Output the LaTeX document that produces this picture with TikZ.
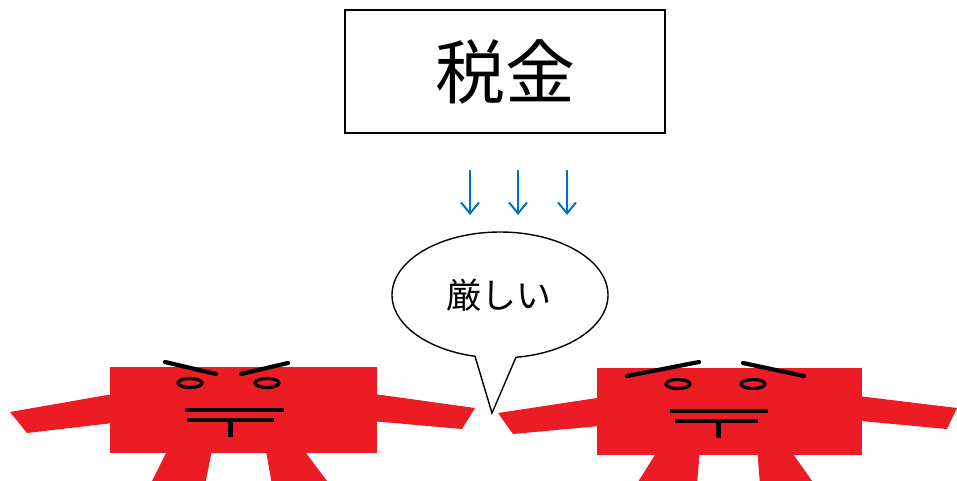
\documentclass[tikz,border=0pt]{standalone}
\usepackage{fontspec}
\usetikzlibrary{arrows.meta}
\newfontfamily\jpfont{Noto Sans CJK JP}
\definecolor{bodyred}{RGB}{237,28,36}
\definecolor{arrowblue}{RGB}{0,112,192}
\begin{document}
\begin{tikzpicture}[x=1pt,y=-1pt,
  part/.style={fill=bodyred,draw=none},
  feature/.style={draw=black,line width=4.2pt,line cap=round},
  eye/.style={draw=black,line width=3.2pt},
  down/.style={draw=arrowblue,line width=2pt,-{Straight Barb[length=11pt,width=18pt,line width=2pt]}}]
\useasboundingbox (0,0) rectangle (957,480);

% title box
\node[draw=black,line width=1.6pt,minimum width=320pt,minimum height=123pt,inner sep=0pt] (tax) at (505,71.5)
  {\jpfont\fontsize{70}{70}\selectfont 税金};

% three downward arrows
\foreach \x/\n in {470/a,518/b,567/c}{
  \coordinate (top\n) at (\x,170);
  \coordinate (end\n) at (\x,215);
  \draw[down] (top\n) -- (end\n);
}

% left figure: arms, legs, body
\path[part] (10,412) -- (130,391) -- (130,421) -- (27,433) -- cycle;
\path[part] (360,392) -- (475,408) -- (462,429) -- (360,420) -- cycle;
\path[part] (170,445) -- (213,445) -- (205,485) -- (150,485) -- cycle;
\path[part] (265,445) -- (300,445) -- (330,485) -- (272,485) -- cycle;
\path[part] (110,367) rectangle (377,453);
% left face
\draw[feature] (165,362) -- (216,374);
\draw[feature] (241,374) -- (288,363);
\draw[eye] (190,383) ellipse[x radius=12,y radius=4.5];
\draw[eye] (267,383) ellipse[x radius=12,y radius=4.5];
\draw[feature,line cap=butt] (185,410) -- (284,410);
\draw[feature,line cap=butt] (187,420) -- (274,420);
\draw[line width=5pt] (230,420) -- (230,437);

% right figure: arms, legs, body
\path[part] (498,413) -- (610,396) -- (610,425) -- (513,434) -- cycle;
\path[part] (850,395) -- (957,408) -- (947,429) -- (850,420) -- cycle;
\path[part] (660,447) -- (700,447) -- (697,485) -- (636,485) -- cycle;
\path[part] (757,447) -- (788,447) -- (815,485) -- (760,485) -- cycle;
\path[part] (597,368) rectangle (862,455);
% right face
\draw[feature] (627,376) -- (699,362);
\draw[feature] (743,363) -- (804,376);
\draw[eye] (678,384) ellipse[x radius=12,y radius=4.5];
\draw[eye] (753,384) ellipse[x radius=12,y radius=4.5];
\draw[feature,line cap=butt] (670,411) -- (768,411);
\draw[feature,line cap=butt] (675,421) -- (758,421);
\draw[line width=5pt] (718,421) -- (718,438);

% speech bubble with tail
\coordinate (tip) at (492,413);
\draw[fill=white,line width=1.4pt,line join=miter]
  (500,295) ++(81.5:108 and 63) arc[start angle=81.5,end angle=-256.6,x radius=108,y radius=63]
  -- (tip) -- cycle;
\node (speech) at (499,295) {\jpfont\fontsize{35}{35}\selectfont 厳しい};
\end{tikzpicture}
\end{document}
